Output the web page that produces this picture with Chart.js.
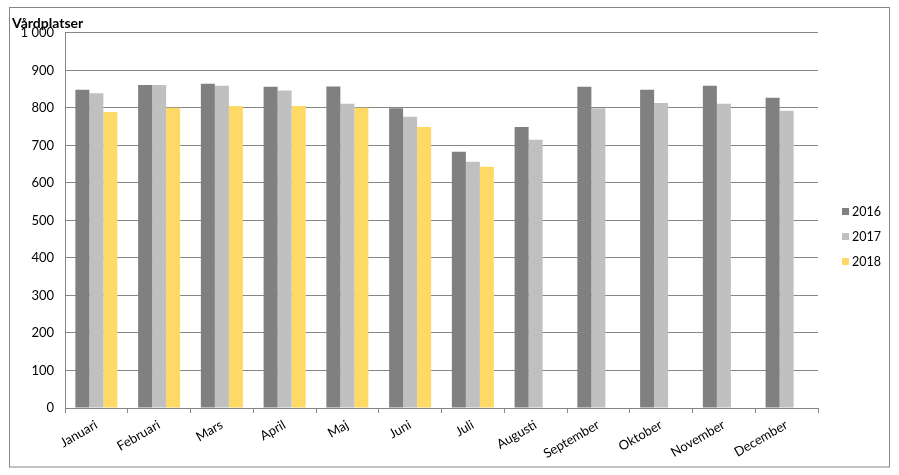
<!DOCTYPE html>
<html>
<head>
<meta charset="utf-8">
<script src="https://cdn.jsdelivr.net/npm/chart.js@4/dist/chart.umd.min.js"></script>
<style>
  html, body { margin: 0; padding: 0; background: #fff; }
  #wrap { width: 899px; height: 475px; }
</style>
</head>
<body>
<div id="wrap"><canvas id="c" width="899" height="475"></canvas></div>
<script>
const categories = ['Januari','Februari','Mars','April','Maj','Juni','Juli','Augusti','September','Oktober','November','December'];
const seriesNames = ['2016','2017','2018'];
const values2016 = [848, 861, 864, 856, 857, 799, 683, 749, 856, 848, 859, 827];
const values2017 = [839, 861, 859, 846, 811, 776, 656, 715, 799, 813, 811, 792];
const values2018 = [789, 800, 805, 805, 800, 749, 643, null, null, null, null, null];
const yTicks = [0, 100, 200, 300, 400, 500, 600, 700, 800, 900, 1000];
const colors = ['#808080', '#c0c0c0', '#ffd966'];
const FONT = 'Lato, "Liberation Sans", sans-serif';

const frameAndLegend = {
  id: 'frameAndLegend',
  beforeDraw(chart) {
    const ctx = chart.ctx;
    ctx.save();
    ctx.fillStyle = '#ffffff';
    ctx.fillRect(0, 0, chart.width, chart.height);
    ctx.strokeStyle = '#868686';
    ctx.lineWidth = 1;
    ctx.strokeRect(9.5, 7.5, 880, 459.5);
    ctx.restore();
  },
  afterDraw(chart) {
    const ctx = chart.ctx;
    ctx.save();
    ctx.font = '12.5px ' + FONT;
    ctx.textBaseline = 'middle';
    ctx.textAlign = 'left';
    chart.data.datasets.forEach((ds, i) => {
      const y = 212 + i * 25;
      ctx.fillStyle = ds.backgroundColor;
      ctx.fillRect(842, y - 4, 7, 7);
      ctx.fillStyle = '#000';
      ctx.fillText(ds.label, 852, y);
    });
    ctx.restore();
  }
};

new Chart(document.getElementById('c'), {
  type: 'bar',
  data: {
    labels: categories,
    datasets: [
      { label: seriesNames[0], data: values2016, backgroundColor: colors[0] },
      { label: seriesNames[1], data: values2017, backgroundColor: colors[1] },
      { label: seriesNames[2], data: values2018, backgroundColor: colors[2] }
    ]
  },
  options: {
    responsive: false,
    animation: false,
    devicePixelRatio: 1,
    layout: { padding: { left: 12, right: 81, top: 8, bottom: 0 } },
    datasets: { bar: { categoryPercentage: 0.67, barPercentage: 1.0 } },
    plugins: {
      legend: { display: false },
      tooltip: { enabled: false },
      title: {
        display: true,
        text: 'Vårdplatser',
        align: 'start',
        color: '#000',
        font: { family: FONT, size: 14, weight: 'bold', lineHeight: 1.2 },
        padding: { top: 7, bottom: 1 }
      }
    },
    scales: {
      x: {
        grid: { display: true, drawOnChartArea: false, drawTicks: true, tickLength: 5, color: '#868686', offset: true },
        border: { display: true, color: '#868686' },
        ticks: {
          color: '#000',
          font: { family: FONT, size: 13 },
          minRotation: 30,
          maxRotation: 30,
          autoSkip: false,
          padding: 4
        },
        afterFit(scale) { scale.height = 67; }
      },
      y: {
        min: 0,
        max: 1000,
        afterBuildTicks(scale) { scale.ticks = yTicks.map(v => ({ value: v })); },
        grid: { color: '#868686', drawTicks: false },
        border: { display: true, color: '#868686' },
        ticks: {
          color: '#000',
          font: { family: FONT, size: 13 },
          padding: 11,
          callback: v => String(v).replace(/\B(?=(\d{3})+(?!\d))/g, ' ')
        },
        afterFit(scale) { scale.width = 53; }
      }
    }
  },
  plugins: [frameAndLegend]
});
</script>
</body>
</html>
